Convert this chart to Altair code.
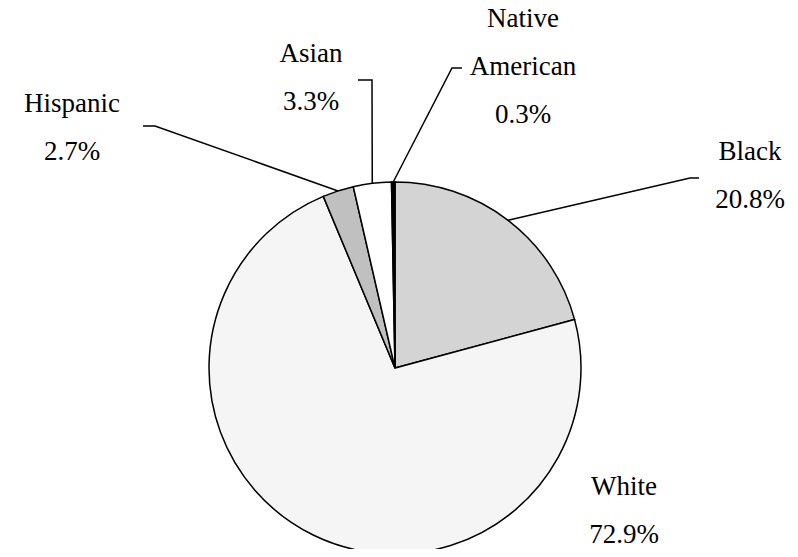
import math
import altair as alt
import pandas as pd

# ---------------- data ----------------
categories = ["Black", "White", "Hispanic", "Asian", "Native American"]
shares = [20.8, 72.9, 2.7, 3.3, 0.3]
pct_labels = ["20.8%", "72.9%", "2.7%", "3.3%", "0.3%"]
name_labels = ["Black", "White", "Hispanic", "Asian", "Native\nAmerican"]
fills = ["#d4d4d4", "#f5f5f5", "#c0c0c0", "#ffffff", "#000000"]

# ---------------- layout (pixels in the plot area) ----------------
W, H = 782, 541
CX, CY, R = 387, 360, 186
FONT = "'Liberation Serif', 'Times New Roman', Times, serif"
FS = 27
LH = 48
# label anchor (center x, first baseline y), leader elbow, leader end
layout = {
    "Black": dict(lx=742, ly=152, ex=682, ey=170, tx=691, ty=170),
    "White": dict(lx=616, ly=487, ex=None, ey=None, tx=None, ty=None),
    "Hispanic": dict(lx=64, ly=104, ex=147, ey=118, tx=135, ty=118),
    "Asian": dict(lx=303, ly=54, ex=364, ey=72, tx=350, ty=72),
    "Native American": dict(lx=515, ly=19, ex=444, ey=60, tx=454, ty=60),
}

# ---------------- tables ----------------
pie = pd.DataFrame({
    "category": categories,
    "share": shares,
    "order": list(range(len(categories))),
})

total = sum(shares)
rows_lines = []
rows_text = []
cum = 0.0
for cat, s, pct, nm in zip(categories, shares, pct_labels, name_labels):
    mid = (cum + s / 2) / total * 2 * math.pi
    cum += s
    L = layout[cat]
    rows_text.append({"category": cat, "x": L["lx"], "y": L["ly"], "label": nm + "\n" + pct})
    if L["ex"] is not None:
        ix = CX + R * math.sin(mid)
        iy = CY - R * math.cos(mid)
        rows_lines += [
            {"category": cat, "i": 0, "x": ix, "y": iy},
            {"category": cat, "i": 1, "x": L["ex"], "y": L["ey"]},
            {"category": cat, "i": 2, "x": L["tx"], "y": L["ty"]},
        ]
lines_df = pd.DataFrame(rows_lines)
text_df = pd.DataFrame(rows_text)

xs = alt.Scale(domain=[0, W], nice=False, zero=False)
ys = alt.Scale(domain=[0, H], nice=False, zero=False, reverse=True)

arcs = alt.Chart(pie).mark_arc(
    outerRadius=R, stroke="black", strokeWidth=1.5, x=CX, y=CY
).encode(
    theta=alt.Theta("share:Q", stack=True),
    order=alt.Order("order:Q"),
    color=alt.Color("category:N", scale=alt.Scale(domain=categories, range=fills), legend=None),
)

leaders = alt.Chart(lines_df).mark_line(color="black", strokeWidth=1.5).encode(
    x=alt.X("x:Q", scale=xs, axis=None),
    y=alt.Y("y:Q", scale=ys, axis=None),
    detail="category:N",
    order="i:Q",
)

labels = alt.Chart(text_df).mark_text(
    font=FONT, fontSize=FS, align="center", baseline="alphabetic",
    lineBreak="\n", lineHeight=LH, color="black"
).encode(
    x=alt.X("x:Q", scale=xs, axis=None),
    y=alt.Y("y:Q", scale=ys, axis=None),
    text="label:N",
)

chart = alt.layer(arcs, leaders, labels).properties(
    width=W, height=H, autosize="none", padding=0, background="white"
).configure_view(stroke=None)

chart.save("out.html", embed_options={"renderer": "svg", "actions": False})
